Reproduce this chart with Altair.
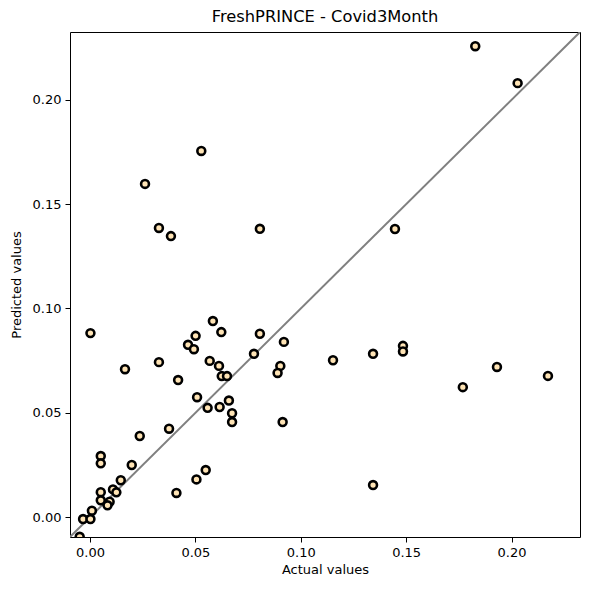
import altair as alt
import pandas as pd

actual = [0.1828, 0.2029, 0.0528, 0.0261, 0.0327, 0.0384, 0.0806, 0.1447,
          0.0002, 0.0583, 0.0623, 0.0501, 0.0465, 0.0493, 0.0806, 0.0920,
          0.0778, 0.0327, 0.0418, 0.0568, 0.0612, 0.0625, 0.0650, 0.0903,
          0.0890, 0.0508, 0.0659, 0.0558, 0.0615, 0.0674, 0.0674, 0.0914,
          0.0375, 0.0236, 0.0051, 0.0051, 0.0198, 0.0146, 0.0051, 0.0109,
          0.0125, 0.0051, 0.0093, 0.0083, 0.0009, -0.0033, 0.0002, -0.0049,
          0.0410, 0.0505, 0.0549, 0.1153, 0.1343, 0.1485, 0.1485, 0.1769,
          0.1931, 0.2173, 0.1343, 0.0166]
predicted = [0.2257, 0.2080, 0.1755, 0.1597, 0.1386, 0.1347, 0.1382, 0.1381,
             0.0882, 0.0940, 0.0887, 0.0869, 0.0826, 0.0805, 0.0879, 0.0840,
             0.0783, 0.0743, 0.0657, 0.0749, 0.0725, 0.0676, 0.0676, 0.0725,
             0.0691, 0.0575, 0.0559, 0.0524, 0.0528, 0.0498, 0.0456, 0.0456,
             0.0424, 0.0389, 0.0293, 0.0258, 0.0250, 0.0177, 0.0120, 0.0133,
             0.0119, 0.0081, 0.0074, 0.0057, 0.0031, -0.0009, -0.0009, -0.0094,
             0.0116, 0.0181, 0.0226, 0.0752, 0.0783, 0.0821, 0.0794, 0.0623,
             0.0720, 0.0677, 0.0154, 0.0709]

limits = [-0.0095, 0.2325]
ticks = [0.00, 0.05, 0.10, 0.15, 0.20]

pts = pd.DataFrame({"actual": actual, "predicted": predicted})
diag = pd.DataFrame({"actual": limits, "predicted": limits})

xscale = alt.Scale(domain=limits, nice=False, zero=False)
yscale = alt.Scale(domain=limits, nice=False, zero=False)

axis_common = dict(
    values=ticks, format=".2f", grid=False, domain=False,
    tickColor="black", tickSize=5, tickWidth=1,
    labelColor="black", labelFontSize=13, labelFont="DejaVu Sans", labelPadding=4,
    titleColor="black", titleFontSize=13, titleFont="DejaVu Sans", titleFontWeight="normal",
)

line = alt.Chart(diag).mark_line(color="#808080", strokeWidth=2, clip=True).encode(
    x=alt.X("actual:Q", scale=xscale, title="Actual values",
            axis=alt.Axis(titlePadding=4, **axis_common)),
    y=alt.Y("predicted:Q", scale=yscale, title="Predicted values",
            axis=alt.Axis(titlePadding=9, **axis_common)),
)

points = alt.Chart(pts).mark_point(
    shape="circle", filled=True, fill="#FFE4B5", stroke="black",
    strokeWidth=2.6, size=62, opacity=1, clip=True
).encode(
    x=alt.X("actual:Q", scale=xscale),
    y=alt.Y("predicted:Q", scale=yscale),
)

chart = (line + points).properties(
    width=510, height=505,
    title=alt.TitleParams("FreshPRINCE - Covid3Month", fontSize=16.3, font="DejaVu Sans",
                          fontWeight="normal", color="black", frame="group",
                          anchor="middle", offset=7),
    autosize=alt.AutoSizeParams(type="none"),
    padding={"left": 62, "top": 24, "right": 2, "bottom": 45},
).configure_view(stroke="black", strokeWidth=1)

chart.save("out.html", embed_options={"renderer": "svg", "actions": False})
